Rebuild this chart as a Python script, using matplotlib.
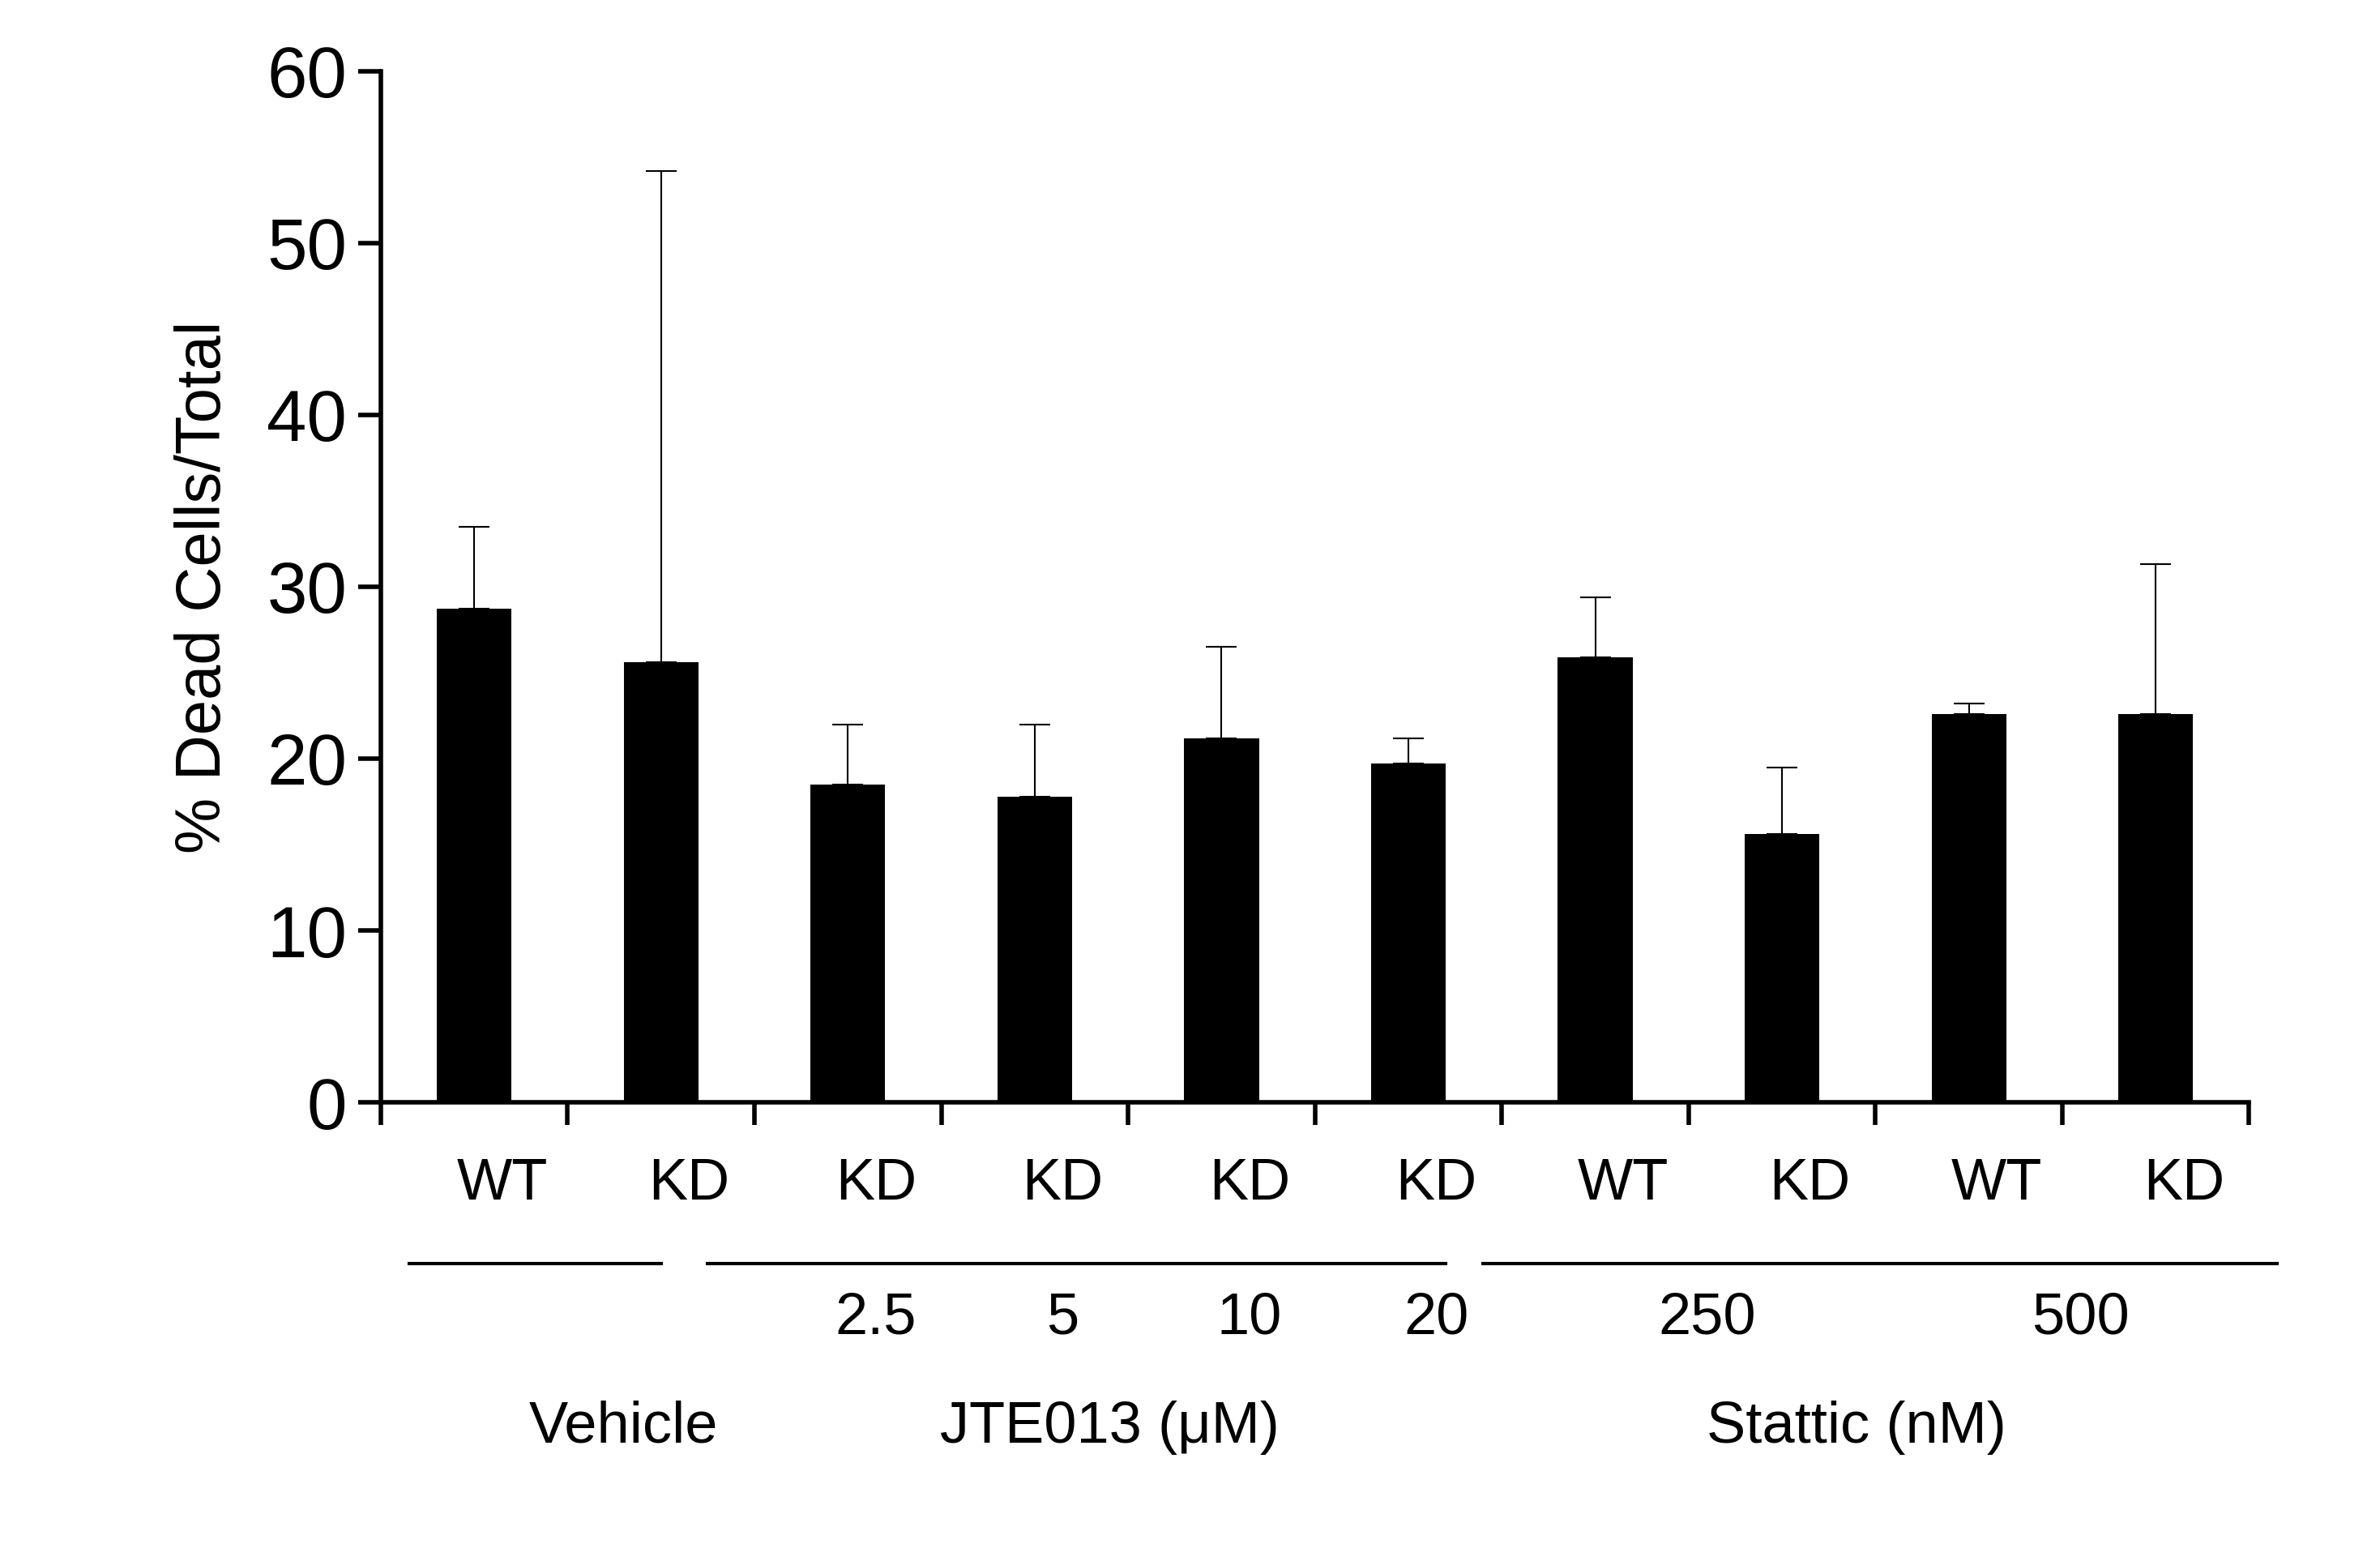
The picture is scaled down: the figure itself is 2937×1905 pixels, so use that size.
import matplotlib
matplotlib.use("Agg")
import matplotlib.pyplot as plt
import numpy as np

genotypes = ["WT", "KD", "KD", "KD", "KD", "KD", "WT", "KD", "WT", "KD"]
means = [28.7, 25.6, 18.5, 17.8, 21.2, 19.7, 25.9, 15.6, 22.6, 22.6]
upper = [33.5, 54.2, 22.0, 22.0, 26.5, 21.2, 29.4, 19.5, 23.2, 31.3]
doses = ["", "", "2.5", "5", "10", "20", "250", "", "500", ""]
yticks = [0, 10, 20, 30, 40, 50, 60]

plt.rcParams["font.family"] = "Liberation Sans"
fig = plt.figure(figsize=(29.37, 19.05), dpi=100)
ax = fig.add_axes([0.16, 0.286, 0.785, 0.668])
x = np.arange(len(means))
err = np.array(upper) - np.array(means)
ax.bar(x, means, width=0.4, color="black", zorder=2)
ax.errorbar(x, means, yerr=[np.zeros_like(err), err], fmt="none", ecolor="black",
            elinewidth=1.5, capsize=14, capthick=1.5, zorder=1)
ax.set_xlim(-0.5, 9.5)
ax.set_ylim(0, 60)
ax.set_yticks(yticks)
ax.set_xticks(np.arange(-0.5, 10, 1))
ax.set_xticklabels([])
for s in ["top", "right"]:
    ax.spines[s].set_visible(False)
for s in ["left", "bottom"]:
    ax.spines[s].set_linewidth(4)
ax.tick_params(axis="y", labelsize=64, width=4, length=20, pad=10)
ax.tick_params(axis="x", width=4, length=20)
ax.set_ylabel("% Dead Cells/Total", fontsize=56, labelpad=30)

tr = ax.get_xaxis_transform()
for i, g in enumerate(genotypes):
    ax.text(i + 0.15, -0.08, g, transform=tr, ha="center", va="center", fontsize=52)
# group lines
for a, b in [(-0.35, 1.0), (1.25, 5.2), (5.4, 9.65)]:
    ax.plot([a, b], [-0.156, -0.156], transform=tr, color="black", lw=3, clip_on=False)
for i, d in enumerate(doses):
    if d:
        xi = i + 0.15 if i < 6 else (i + 0.6)
        ax.text(xi, -0.21, d, transform=tr, ha="center", va="center", fontsize=52)
ax.text(0.8, -0.315, "Vehicle", transform=tr, ha="center", va="center", fontsize=52)
ax.text(3.4, -0.315, "JTE013 (μM)", transform=tr, ha="center", va="center", fontsize=52)
ax.text(7.4, -0.315, "Stattic (nM)", transform=tr, ha="center", va="center", fontsize=52)
fig.savefig("out.png", dpi=100)
